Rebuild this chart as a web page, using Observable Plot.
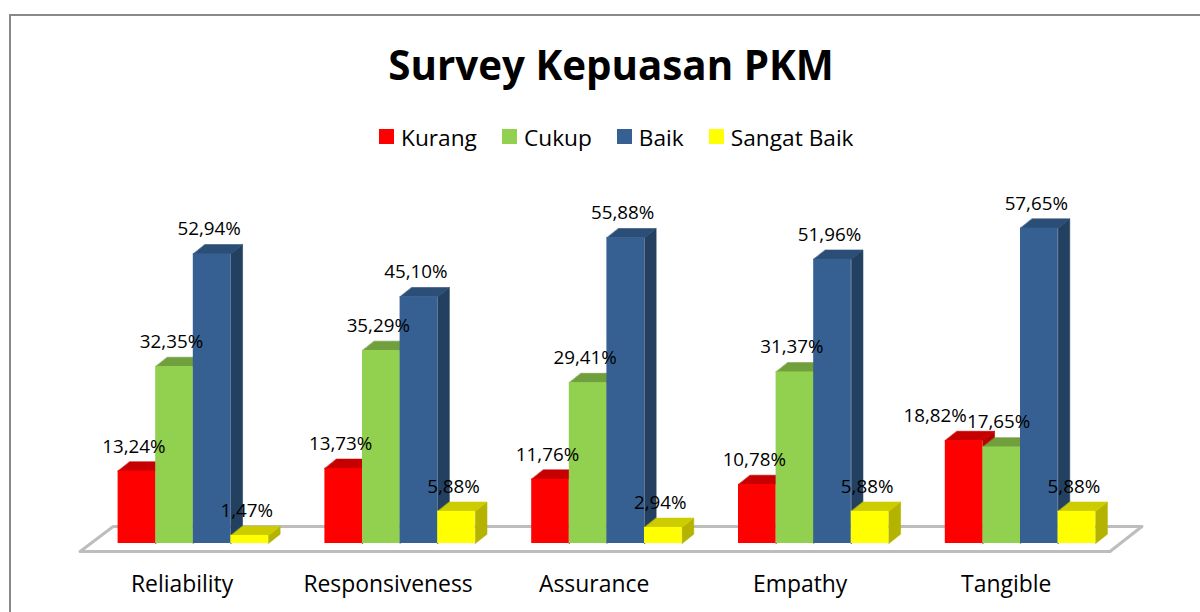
<!DOCTYPE html>
<html><head><meta charset="utf-8">
<script src="https://cdn.jsdelivr.net/npm/d3@7"></script>
<script src="https://cdn.jsdelivr.net/npm/@observablehq/plot@0.6"></script>
<style>
html,body{margin:0;padding:0;background:#fff;overflow:hidden}
#page{position:relative;width:1200px;height:612px;overflow:hidden;font-family:"Open Sans",sans-serif;color:#000}
#frame{position:absolute;left:9px;top:14px;width:1300px;height:700px;border-left:2px solid #898989;border-top:2px solid #898989}
#title{position:absolute;left:11px;width:1200px;top:35px;text-align:center;font-size:40.3px;font-weight:700;line-height:60px}
#legend{position:absolute;left:379px;top:120px;height:34px;display:flex;align-items:center;font-size:22.7px;white-space:nowrap}
#legend span.sw{display:inline-block;width:15px;height:15px;margin-right:7px;position:relative;top:-1px}
#legend span.it{display:inline-flex;align-items:center;margin-right:25px}
#plot{position:absolute;left:0;top:165px}
svg{overflow:visible}
</style></head><body>
<div id="page"><div id="frame"></div>
<div id="title">Survey Kepuasan PKM</div>
<div id="legend"></div>
<div id="plot"></div></div>
<script>
const categories=["Reliability","Responsiveness","Assurance","Empathy","Tangible"];
const seriesNames=["Kurang","Cukup","Baik","Sangat Baik"];
const kurang=[13.24,13.73,11.76,10.78,18.82];
const cukup=[32.35,35.29,29.41,31.37,17.65];
const baik=[52.94,45.10,55.88,51.96,57.65];
const sangatBaik=[1.47,5.88,2.94,5.88,5.88];
const frontColors=["#FF0000","#92D050","#366092","#FFFF00"];
const topColors=["#C60000","#729F3E","#2B4E77","#CCCC00"];
const sideColors=["#B80000","#6A943A","#234060","#B3B300"];

const values=[kurang,cukup,baik,sangatBaik];
const groupStep=5.5, depthX=0.31, depthY=1.7;
const bars=values.map((vals,s)=>vals.map((v,g)=>({s,g,v,x0:g*groupStep+s,x1:g*groupStep+s+1})));
const poly=(b,pts)=>pts.map(([x,y])=>({id:b.g,x,y}));
const sides=bars.map(row=>row.flatMap(b=>poly(b,[[b.x1,0],[b.x1+depthX,depthY],[b.x1+depthX,b.v+depthY],[b.x1,b.v]])));
const tops=bars.map(row=>row.flatMap(b=>poly(b,[[b.x0,b.v],[b.x1,b.v],[b.x1+depthX,b.v+depthY],[b.x0+depthX,b.v+depthY]])));
const floor=[{x:-1.01,y:-1.46},{x:26.38,y:-1.46},{x:27.23,y:3.1},{x:-0.13,y:3.1}];
const face=(data,fill)=>Plot.line(data,{x:"x",y:"y",z:"id",fill,stroke:fill,strokeWidth:0.6,curve:"linear-closed"});
const labelShift=(b)=>(b.s===0&&b.g===4)?-29:-3;
const labelText=v=>v.toFixed(2).replace(".",",")+"%";

const chart=Plot.plot({
  width:1200,height:447,margin:0,marginBottom:40,
  style:{fontFamily:'"Open Sans",sans-serif',background:"transparent"},
  x:{domain:[0,27.6],range:[117.6,117.6+27.6*37.6],axis:null},
  y:{domain:[0,100],range:[378,378-547],axis:null},
  marks:[
    Plot.line(floor,{x:"x",y:"y",fill:"#fff",stroke:"#BDBDBD",strokeWidth:3,curve:"linear-closed"}),
    ...bars.flatMap((row,s)=>[
      face(sides[s],sideColors[s]),
      face(tops[s],topColors[s]),
      Plot.rect(row,{x1:"x0",x2:"x1",y1:0,y2:"v",fill:frontColors[s]})
    ]),
    ...bars.map(row=>Plot.text(row,{
      x:b=>(b.x0+b.x1)/2+labelShift(b)/37.6,y:"v",text:b=>labelText(b.v),
      dy:-24.5,fontSize:18.8,fill:"#000"})),
    Plot.axisX({
      ticks:categories.map((_,g)=>g*5.48+1.7),
      tickFormat:(d,i)=>categories[i],
      tickSize:0,tickPadding:3,fontSize:22.9,fill:"#000",label:null
    })
  ]
});
document.getElementById("plot").appendChild(chart);
const legend=d3.select("#legend");
seriesNames.forEach((n,i)=>{
  const it=legend.append("span").attr("class","it");
  it.append("span").attr("class","sw").style("background",frontColors[i]);
  it.append("span").text(n);
});
</script></body></html>
